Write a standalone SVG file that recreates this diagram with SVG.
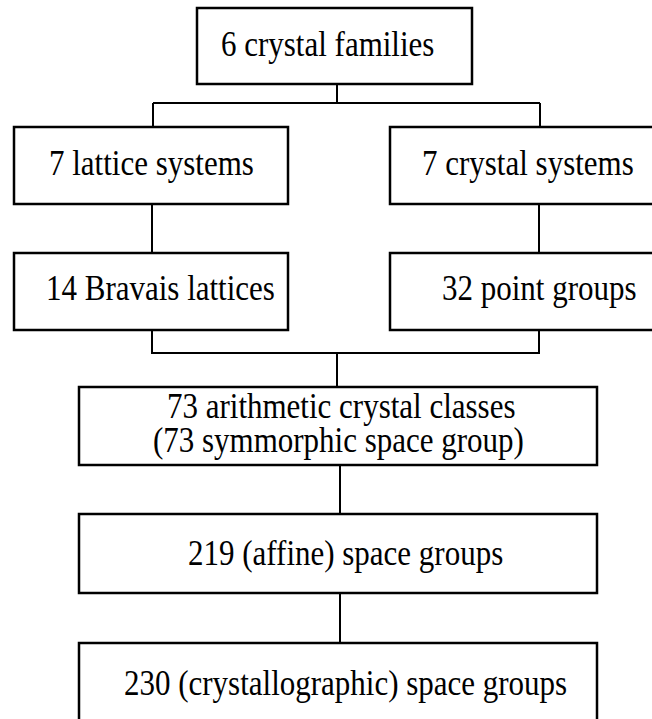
<svg xmlns="http://www.w3.org/2000/svg" width="652" height="719" viewBox="0 0 652 719">
<style>
.box{fill:#fff;stroke:#000;stroke-width:2.5}
.lbl{font-family:"Liberation Serif","Times New Roman",serif;font-size:31px;fill:#000}
.con{fill:none;stroke:#000;stroke-width:2}
</style>
<rect width="652" height="719" fill="#fff"/>
<g id="connectors">
<path class="con" d="M337 84V103M153 103H540M153 103V127M540 103V127"/>
<path class="con" d="M152 204V253M539 204V253"/>
<path class="con" d="M152 330V353H539V330M337 353V387"/>
<path class="con" d="M340 465V514M340 593V643"/>
</g>
<g id="n-families"><rect class="box" x="197" y="8" width="275" height="76"/><text class="lbl" transform="translate(221 56) scale(1 1.13)">6 crystal families</text></g>
<g id="n-lattice"><rect class="box" x="14" y="127" width="274" height="77"/><text class="lbl" transform="translate(49 175) scale(1 1.13)">7 lattice systems</text></g>
<g id="n-crystal"><rect class="box" x="390" y="127" width="270" height="77"/><text class="lbl" transform="translate(422 175) scale(1 1.13)">7 crystal systems</text></g>
<g id="n-bravais"><rect class="box" x="14" y="253" width="274" height="77"/><text class="lbl" transform="translate(46 300) scale(1 1.13)">14 Bravais lattices</text></g>
<g id="n-point"><rect class="box" x="390" y="253" width="270" height="77"/><text class="lbl" transform="translate(442 300) scale(1 1.13)">32 point groups</text></g>
<g id="n-arith"><rect class="box" x="79" y="387" width="518" height="78"/><text class="lbl" transform="translate(167 418) scale(1 1.13)">73 arithmetic crystal classes</text><text class="lbl" transform="translate(153 452) scale(1 1.13)">(73 symmorphic space group)</text></g>
<g id="n-affine"><rect class="box" x="79" y="514" width="518" height="79"/><text class="lbl" transform="translate(188 565) scale(1 1.13)">219 (affine) space groups</text></g>
<g id="n-cryst"><rect class="box" x="79" y="643" width="518" height="90"/><text class="lbl" transform="translate(124 695) scale(1 1.13)">230 (crystallographic) space groups</text></g>
</svg>
